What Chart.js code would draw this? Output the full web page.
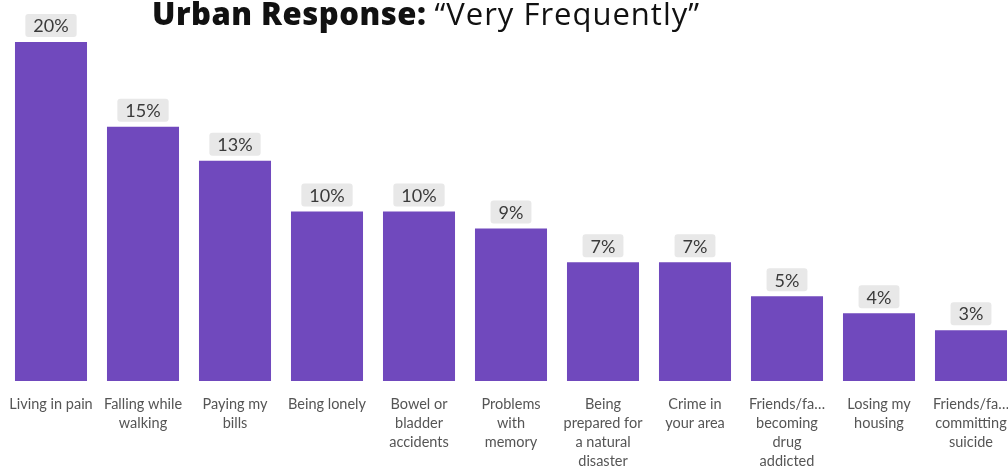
<!DOCTYPE html>
<html>
<head>
<meta charset="utf-8">
<script src="https://cdn.jsdelivr.net/npm/chart.js@4.4.1/dist/chart.umd.min.js"></script>
<style>
  html, body { margin: 0; padding: 0; background: #ffffff; overflow: hidden; width: 1008px; height: 468px; }
  #wrap { position: absolute; left: 0; top: 0; width: 1020px; height: 468px; }
  #chart { filter: blur(0.35px); }
  #title {
    position: absolute; left: 152px; top: -7px; margin: 0;
    font-family: "Open Sans", sans-serif; font-size: 31px; line-height: 40px;
    color: #111111; white-space: nowrap;
  }
  #title b { font-weight: 800; letter-spacing: 0.5px; }
  #title span { font-weight: 500; letter-spacing: 1.0px; }
</style>
</head>
<body>
<div id="wrap">
  <canvas id="chart" width="1020" height="468"></canvas>
  <h1 id="title"><b>Urban Response:</b> <span>“Very Frequently”</span></h1>
</div>
<script>
// Share of urban respondents answering "Very Frequently", per worry
const categories = [
  ["Living in pain"],
  ["Falling while", "walking"],
  ["Paying my", "bills"],
  ["Being lonely"],
  ["Bowel or", "bladder", "accidents"],
  ["Problems", "with", "memory"],
  ["Being", "prepared for", "a natural", "disaster"],
  ["Crime in", "your area"],
  ["Friends/fa…", "becoming", "drug", "addicted"],
  ["Losing my", "housing"],
  ["Friends/fa…", "committing", "suicide"]
];
const percentages = [20, 15, 13, 10, 10, 9, 7, 7, 5, 4, 3];

const BAR_COLOR = "#7049bd";
const LABEL_BOX = "#e8e8e8";
const LABEL_TEXT = "#3a3a3a";

// Grey rounded tag with the percentage above each bar
const valueTags = {
  id: "valueTags",
  afterDatasetsDraw(chart) {
    const ctx = chart.ctx;
    const meta = chart.getDatasetMeta(0);
    ctx.save();
    ctx.font = "18px Lato, 'Open Sans', sans-serif";
    ctx.textAlign = "center";
    ctx.textBaseline = "middle";
    meta.data.forEach((bar, i) => {
      const text = percentages[i] + "%";
      const w = ctx.measureText(text).width + 16;
      const h = 23;
      const x = bar.x - w / 2;
      const y = bar.y - 5 - h;
      ctx.fillStyle = LABEL_BOX;
      ctx.beginPath();
      ctx.roundRect(x, y, w, h, 3);
      ctx.fill();
      ctx.fillStyle = LABEL_TEXT;
      ctx.fillText(text, bar.x, y + h / 2 + 1);
    });
    ctx.restore();
  }
};

new Chart(document.getElementById("chart"), {
  type: "bar",
  data: {
    labels: categories,
    datasets: [{
      data: percentages,
      backgroundColor: BAR_COLOR,
      borderWidth: 0,
      barPercentage: 0.783,
      categoryPercentage: 1.0
    }]
  },
  options: {
    responsive: false,
    animation: false,
    devicePixelRatio: 1,
    layout: { padding: { left: 5, right: 3, top: 0, bottom: 0 } },
    plugins: { legend: { display: false }, tooltip: { enabled: false }, title: { display: false } },
    scales: {
      x: {
        grid: { display: false },
        border: { display: false },
        ticks: {
          autoSkip: false,
          maxRotation: 0,
          minRotation: 0,
          padding: 6,
          color: "#555555",
          font: { family: "Lato, 'Open Sans', sans-serif", size: 14.5, lineHeight: 1.31 }
        },
        afterFit(scale) {
          scale.height = 87;
          scale.paddingLeft = 0;
          scale.paddingRight = 0;
        }
      },
      y: {
        display: false,
        min: 0,
        max: 22.48
      }
    }
  },
  plugins: [valueTags]
});
</script>
</body>
</html>
